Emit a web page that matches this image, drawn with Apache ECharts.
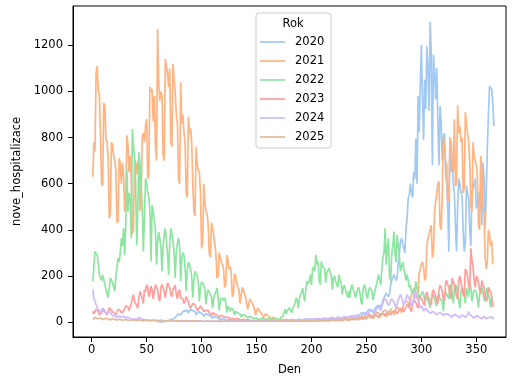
<!DOCTYPE html>
<html><head><meta charset="utf-8">
<script src="https://cdn.jsdelivr.net/npm/echarts@6/dist/echarts.min.js"></script>
<style>html,body{margin:0;padding:0;background:#fff}#c{width:528px;height:381px}</style>
</head><body><div id="c"></div>
<script>
const years = ['2020','2021','2022','2023','2024','2025'];
const colors = ['#a1c9f4','#ffb482','#8de5a1','#ff9f9b','#d0bbff','#debb9b'];
const startDays = [61, 1, 1, 1, 1, 1];
const xTicks = [0,50,100,150,200,250,300,350];
const yTicks = [0,200,400,600,800,1000,1200];

const v2020 = [0,0,0,1,1,2,
2,3,4,5,8,10,12, 12,14,20,25,28,35,38, 30,32,45,50,48,52,50, 38,35,55,52,48,50,45,
30,28,45,42,40,38,35, 25,22,35,30,32,28,26, 18,16,25,22,20,18,17, 10,9,15,14,13,12,10,
6,5,10,9,8,8,7, 5,4,8,7,8,6,7, 4,3,6,5,6,5,4, 3,3,5,6,4,5,4, 3,2,5,4,5,4,4,
3,3,6,5,4,5,6, 3,4,6,7,5,6,5, 4,3,7,8,6,7,8, 5,4,9,10,8,9,8, 6,5,10,12,11,9,10,
6,7,12,13,11,12,10, 7,6,14,12,13,11,12, 8,7,13,15,12,14,13, 9,8,15,16,14,15,13,
10,9,17,18,16,17,15, 11,10,20,22,19,21,20, 14,12,25,28,26,27,25, 18,16,35,38,40,36,38,
25,24,48,52,55,50,52,
40,35,60,65,70,75,72, 55,50,94,100,115,125,133, 110,120,160,180,195,205,200,
180,195,260,300,349,363,340, 320,300,406,450,535,550,600, 560,540,650,622,794,600,980,
822,1016,1203,980,790,1052,923, 1196,1100,916,1303,1153,680,1160, 1081,966,1103,866,680,937,860,
700,800,820,650,600,500,306, 800,650,700,600,564,420,306, 500,622,600,560,550,400,305,
334,593,560,540,400,330,560, 564,600,622,492,520,560,480, 600,421,693,620,406,560,750,
900,1023,1030,1009,950,851];

const v2021 = [630,
780,740,1080,1110,1000,990,810, 600,590,950,940,790,780,720, 450,470,780,770,720,700,660,
430,440,710,690,600,690,640, 480,500,810,770,650,720,620, 380,400,700,690,640,700,660,
480,520,800,820,780,850,880, 620,640,1020,1000,1010,870,980, 760,700,1270,1040,960,1000,980,
720,700,1140,1140,1080,1020,1100, 780,760,1120,1050,1000,900,860, 620,600,1040,860,900,820,780,
560,540,890,820,840,780,600, 480,460,760,680,660,650,560, 320,340,600,520,480,470,420,
300,280,430,400,380,340,300, 190,200,300,280,260,250,230, 150,160,290,270,230,240,210,
110,120,210,200,170,150,140, 80,85,150,140,120,110,105, 55,60,100,95,85,70,60,
30,35,60,55,45,40,35, 15,18,35,30,28,24,22, 10,10,20,18,16,14,12, 6,6,12,11,10,9,8,
5,4,9,8,8,7,7, 4,4,8,7,8,6,7, 4,3,7,8,6,7,6, 4,4,8,7,8,7,6, 4,5,9,8,9,8,8,
5,5,10,9,10,9,9, 6,5,11,12,10,11,10, 6,7,13,12,14,12,11, 7,8,15,14,16,15,14,
9,10,18,20,19,18,17, 11,12,22,24,23,21,22, 14,15,28,30,29,27,26, 18,17,35,38,36,34,33,
22,24,45,48,46,44,42, 30,28,60,65,62,58,55, 40,42,80,85,90,88,85, 60,65,120,130,140,150,145,
100,110,210,230,250,260,240, 180,190,330,360,380,400,420, 280,300,480,520,560,600,610,
420,400,540,800,760,700,680, 520,540,800,780,700,650,880, 590,600,940,820,850,780,800,
560,580,910,860,820,780,700, 500,480,780,720,700,680,620, 420,400,720,650,500,480,280,
230,260,400,380,330,350,250];

const v2022 = [177,240,306,300,291,250,205, 190,180,205,200,162,140,133, 105,150,191,185,170,150,133,
200,234,277,260,300,363,330, 406,291,420,665,478,560,540, 363,837,760,722,600,334,500,
736,680,580,500,306,450,622, 600,560,540,480,263,507,480, 440,400,248,350,390,392,330,
220,320,380,406,350,300,205, 340,406,380,350,300,191,310, 340,363,330,177,280,300,290,
240,133,220,260,248,230,200, 105,180,220,210,200,170,90, 150,175,177,160,140,76,120,
140,130,120,110,60,100,120, 130,148,110,50,90,105,100, 95,105,80,40,70,65,47,
60,55,50,30,45,50,40, 38,35,22,30,32,28,26, 26,18,22,24,20,18,12, 16,18,17,15,10,14,15,
16,14,13,9,12,14,13, 14,12,8,12,14,15,14, 15,10,16,18,20,25,30, 55,35,50,58,62,60,40,
47,70,80,105,95,60,100, 120,130,148,110,90,150,177, 165,180,205,160,230,240,220,
291,250,262,180,162,263,240, 245,230,170,215,210,234,215, 200,140,190,200,180,162,150,
205,180,170,120,150,160,140, 145,105,135,105,150,162,140, 130,105,100,140,150,130,90,
76,140,162,150,120,100,133, 150,145,133,95,120,140,160, 180,205,200,160,230,280,300,
406,248,320,363,200,177,290, 330,392,300,260,377,330,280, 220,240,260,230,210,180,205,
180,150,160,130,140,120,100, 177,150,130,105,110,120,133, 120,90,100,110,90,80,62,
100,110,119,100,80,70,110, 120,100,95,90,47,110,130, 120,110,100,162,150,120,80,
140,162,150,130,90,60,130, 148,140,120,80,148,130,110, 177,150,90,120,140,148,130,
100,62,120,133,148,130,100, 90,133,148,120,100,62,110, 70];

const v2023 = [47,35,40,55,50,45,30, 28,40,50,48,45,40,30, 35,62,55,50,45,40,35, 30,45,55,60,50,40,35,
45,60,70,76,65,50,55, 80,100,119,90,85,70,60, 110,133,120,100,80,140,130, 162,150,110,120,155,140,100,
130,162,150,140,100,90,150, 162,150,130,105,140,170,177, 150,120,110,140,148,160,120,
100,130,140,105,110,100,80, 90,110,100,95,70,60,62, 80,85,76,70,50,45,60, 70,65,55,45,40,50,55,
50,40,35,30,40,45,33, 35,30,25,20,26,30,25, 22,18,20,24,20,15,14, 18,16,14,10,12,15,14,
12,9,8,12,11,10,8, 7,10,9,8,6,5,8, 7,8,6,5,4,7,6, 6,5,4,3,5,6,5, 5,4,3,5,6,5,4,
3,3,5,4,5,4,4, 3,2,4,5,4,5,3, 2,4,5,4,5,4,3, 3,5,4,6,5,4,3, 5,6,5,4,6,5,3,
4,6,7,5,6,4,4, 6,7,6,8,5,4,7, 8,7,9,6,5,8,9, 10,8,7,6,10,11,10, 12,10,8,12,14,13,10,
9,15,17,16,14,11,18, 20,22,20,16,14,24,28, 27,25,20,18,30,32,30, 28,22,20,35,38,36,30,
26,38,45,42,40,30,28, 45,50,48,44,36,32,55, 60,58,55,45,40,65,75, 70,66,55,45,80,95,90,
85,70,60,100,110,105,90, 80,70,120,130,110,100,85, 75,130,140,125,110,90,80,
140,160,150,130,100,90,170, 180,160,150,120,100,190,175, 160,140,110,100,180,200,170,
150,120,110,230,220,200,160, 140,320,270,240,180,150,200, 190,170,140,120,180,160,150,
110,90,100,150,140,130,110, 65];

const v2024 = [140,100,90,75,62,55,50, 40,45,60,54,48,35,33, 40,47,42,35,25,22,30, 28,18,20,26,24,20,15,
25,22,18,14,20,18,16, 12,10,15,14,12,10,9, 20,26,15,12,10,8,9, 10,9,8,7,6,8,9,
8,7,6,5,7,8,7, 6,5,7,6,5,4,6, 5,6,5,4,3,5,6, 5,4,3,5,4,5,4,
3,4,5,4,3,4,5, 4,3,4,5,4,3,3, 4,5,4,3,3,4,5, 4,3,2,4,5,4,3, 2,4,3,4,5,3,2,
3,4,5,4,3,2,4, 5,4,3,3,4,5,6, 5,3,4,5,6,5,4, 3,5,6,5,4,3,5, 6,5,4,3,5,6,7,
6,4,3,6,7,6,5, 4,6,7,8,6,5,4, 7,8,9,7,6,5,8, 9,10,8,6,5,9,10, 11,9,7,6,10,12,11,
10,8,7,12,13,12,10, 8,7,13,15,14,12,10, 9,14,16,15,13,11,10, 16,18,17,14,12,11,18,
20,19,16,13,12,20,22, 21,18,15,14,22,24,23, 20,16,15,25,28,26,22, 18,17,30,32,30,26,22,
20,35,38,40,36,30,28, 45,50,48,42,35,32,55, 60,65,58,50,45,80,100, 105,95,90,70,65,90,100,
95,88,80,60,55,95,110, 119,105,90,75,70,100,119, 110,100,85,70,85,100,133, 120,112,95,80,60,70,60,
47,55,60,52,48,40,38, 40,45,50,42,36,30,35, 40,42,38,32,28,25,36, 38,33,30,28,22,20,30,
35,32,28,25,20,18,28, 30,28,25,20,18,30,45, 32,28,24,18,16,25,28, 26,22,20,15,14,22,25,
20,14,12,18,20,22,18, 15,22];

const v2025 = [10,15,20,18,14,12,16, 18,15,12,10,14,16,15, 13,10,9,12,14,13,11, 9,8,11,12,10,9,7,
8,10,11,9,8,6,7, 9,10,8,7,5,6,8, 9,8,7,5,4,7,8, 8,7,6,4,4,6,7, 7,6,5,4,3,6,7,
6,5,5,3,3,5,6, 6,5,4,3,3,5,6, 5,5,4,3,2,4,5, 5,4,4,3,2,4,5, 4,5,4,2,2,4,5,
4,4,3,2,2,4,4, 4,3,3,2,2,3,4, 4,3,3,2,1,3,4, 3,3,2,2,1,3,3, 4,3,3,2,2,3,4,
4,3,3,2,2,4,4, 3,4,3,2,2,3,4, 4,3,3,2,2,4,4, 4,3,3,2,2,4,5, 4,4,3,2,3,4,5,
5,4,4,3,3,5,5, 5,4,4,3,3,5,6, 6,5,4,3,3,6,6, 6,5,5,4,3,6,7, 7,6,5,4,4,7,8,
8,7,6,4,4,8,9, 9,8,7,5,5,9,10, 10,9,8,6,5,10,12, 12,11,9,7,6,12,14, 14,13,11,8,7,15,17,
18,16,14,10,9,20,22, 24,22,18,14,12,26,30, 32,30,26,18,16,35,40, 42,40,34,24,22,45,50,
52,48,42,30,28,55,58];

const values = [v2020, v2021, v2022, v2023, v2024, v2025];

const FONT = 'DejaVu Sans';
const chart = echarts.init(document.getElementById('c'), null, {renderer: 'canvas'});
const series = years.map((y, i) => ({
  name: y,
  type: 'line',
  data: values[i].map((v, k) => [startDays[i] + k, v]),
  showSymbol: false,
  symbol: 'none',
  lineStyle: {width: 1.7, color: colors[i]},
  itemStyle: {color: colors[i]},
  emphasis: {disabled: true},
  z: 2 + i * 0.01,
  clip: true
}));

chart.setOption({
  animation: false,
  backgroundColor: '#fff',
  grid: {left: 73, right: 22, top: 6, bottom: 42, show: true, borderColor: '#000', borderWidth: 1, backgroundColor: 'transparent'},
  xAxis: {
    type: 'value', min: -17, max: 377,
    name: 'Den', nameLocation: 'middle', nameGap: 27,
    nameTextStyle: {fontFamily: FONT, fontSize: 11.5, color: '#000'},
    axisLine: {show: true, onZero: false, lineStyle: {color: '#000', width: 1}},
    axisTick: {show: true, customValues: xTicks, length: 5, lineStyle: {color: '#000', width: 1}},
    axisLabel: {customValues: xTicks, fontFamily: FONT, fontSize: 11.5, color: '#000', margin: 7,
                formatter: v => String(v)},
    splitLine: {show: false}
  },
  yAxis: {
    type: 'value', min: -65.3, max: 1371,
    name: 'nove_hospitalizace', nameLocation: 'middle', nameGap: 40,
    nameTextStyle: {fontFamily: FONT, fontSize: 11.5, color: '#000'},
    axisLine: {show: true, onZero: false, lineStyle: {color: '#000', width: 1}},
    axisTick: {show: true, customValues: yTicks, length: 5, lineStyle: {color: '#000', width: 1}},
    axisLabel: {customValues: yTicks, fontFamily: FONT, fontSize: 11.5, color: '#000', margin: 10,
                formatter: v => String(v)},
    splitLine: {show: false}
  },
  legend: {
    data: years, orient: 'vertical', left: 260, top: 35, padding: 0,
    itemWidth: 25, itemHeight: 1.7, itemGap: 5, icon: 'rect',
    textStyle: {fontFamily: FONT, fontSize: 11.5, color: '#000', lineHeight: 14, padding: [0, 0, 0, 5]},
    selectedMode: false, z: 5
  },
  graphic: {elements: [
    {type: 'rect', shape: {x: 256, y: 13, width: 75, height: 135, r: 3},
     style: {fill: 'rgba(255,255,255,0.8)', stroke: '#cccccc', lineWidth: 1}, z: 3},
    {type: 'text', x: 293, y: 24, z: 6,
     style: {text: 'Rok', fontFamily: FONT, fontSize: 11.5, fill: '#000', textAlign: 'center', textVerticalAlign: 'middle'}}
  ]},
  series: series
});
</script>
</body></html>
